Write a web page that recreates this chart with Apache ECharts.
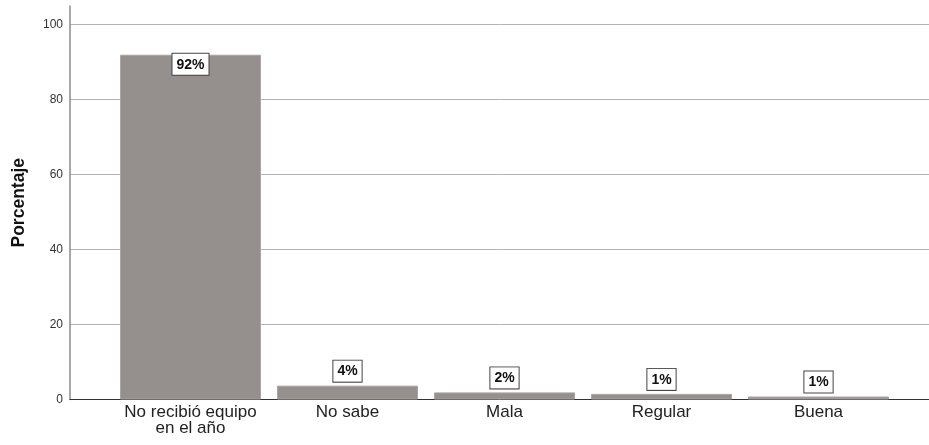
<!DOCTYPE html>
<html><head><meta charset="utf-8">
<script src="https://cdn.jsdelivr.net/npm/echarts@6/dist/echarts.min.js"></script>
<style>html,body{margin:0;padding:0;background:#fff}#c{width:929px;height:445px}</style>
</head><body><div id="c"></div>
<script>
const categories = ['No recibió equipo\nen el año', 'No sabe', 'Mala', 'Regular', 'Buena'];
const values = [92.0, 3.7, 1.9, 1.5, 0.8];
const valueLabels = ['92%', '4%', '2%', '1%', '1%'];
const yTicks = [0, 20, 40, 60, 80, 100];
const yTitle = 'Porcentaje';

const chart = echarts.init(document.getElementById('c'));
const data = values.map((v, i) => ({
  value: v,
  label: { position: i === 0 ? 'insideTop' : 'top', distance: i === 0 ? -1 : 4 }
}));
chart.setOption({
  animation: false,
  grid: [
    { left: 70, right: 0, top: 6, bottom: 45.5 },
    { left: 112, right: 32, top: 6, bottom: 45.5 }
  ],
  xAxis: [
    { gridIndex: 0, type: 'value', min: 0, max: 1,
      axisLine: { show: true, lineStyle: { color: '#333', width: 1 } },
      axisTick: { show: false }, axisLabel: { show: false }, splitLine: { show: false } },
    { gridIndex: 1, type: 'category', data: categories,
      axisLine: { show: false }, axisTick: { show: false },
      axisLabel: { fontFamily: 'Liberation Sans, Arial', fontSize: 17, color: '#222', margin: 5, lineHeight: 16, interval: 0 } }
  ],
  yAxis: [
    { gridIndex: 0, type: 'value', min: 0, max: 105, interval: 20,
      name: yTitle, nameLocation: 'middle', nameGap: 42,
      nameTextStyle: { fontFamily: 'Liberation Sans, Arial', fontSize: 17.5, fontWeight: 'bold', color: '#111' },
      axisLine: { show: true, lineStyle: { color: '#8c8c8c', width: 1.5 } },
      axisTick: { show: false },
      axisLabel: { fontFamily: 'Liberation Sans, Arial', fontSize: 12, color: '#333', margin: 7, showMaxLabel: false,
        formatter: v => yTicks.includes(v) ? String(v) : '' },
      splitLine: { show: true, showMaxLine: false, showMinLine: false, lineStyle: { color: '#b4b4b4', width: 1 } } },
    { gridIndex: 1, type: 'value', min: 0, max: 105, show: false }
  ],
  series: [{
    type: 'bar', xAxisIndex: 1, yAxisIndex: 1, data: data, barWidth: 141,
    itemStyle: { color: '#958f8e', borderColor: '#a9a4a3', borderWidth: 1 },
    label: {
      show: true,
      formatter: p => valueLabels[p.dataIndex],
      fontFamily: 'Liberation Sans Narrow, Liberation Sans, Arial', fontWeight: 'bold', fontSize: 14, lineHeight: 16, color: '#111',
      backgroundColor: '#fff', borderColor: '#444', borderWidth: 1, padding: [3, 4, 2, 4]
    }
  }]
});
</script></body></html>
